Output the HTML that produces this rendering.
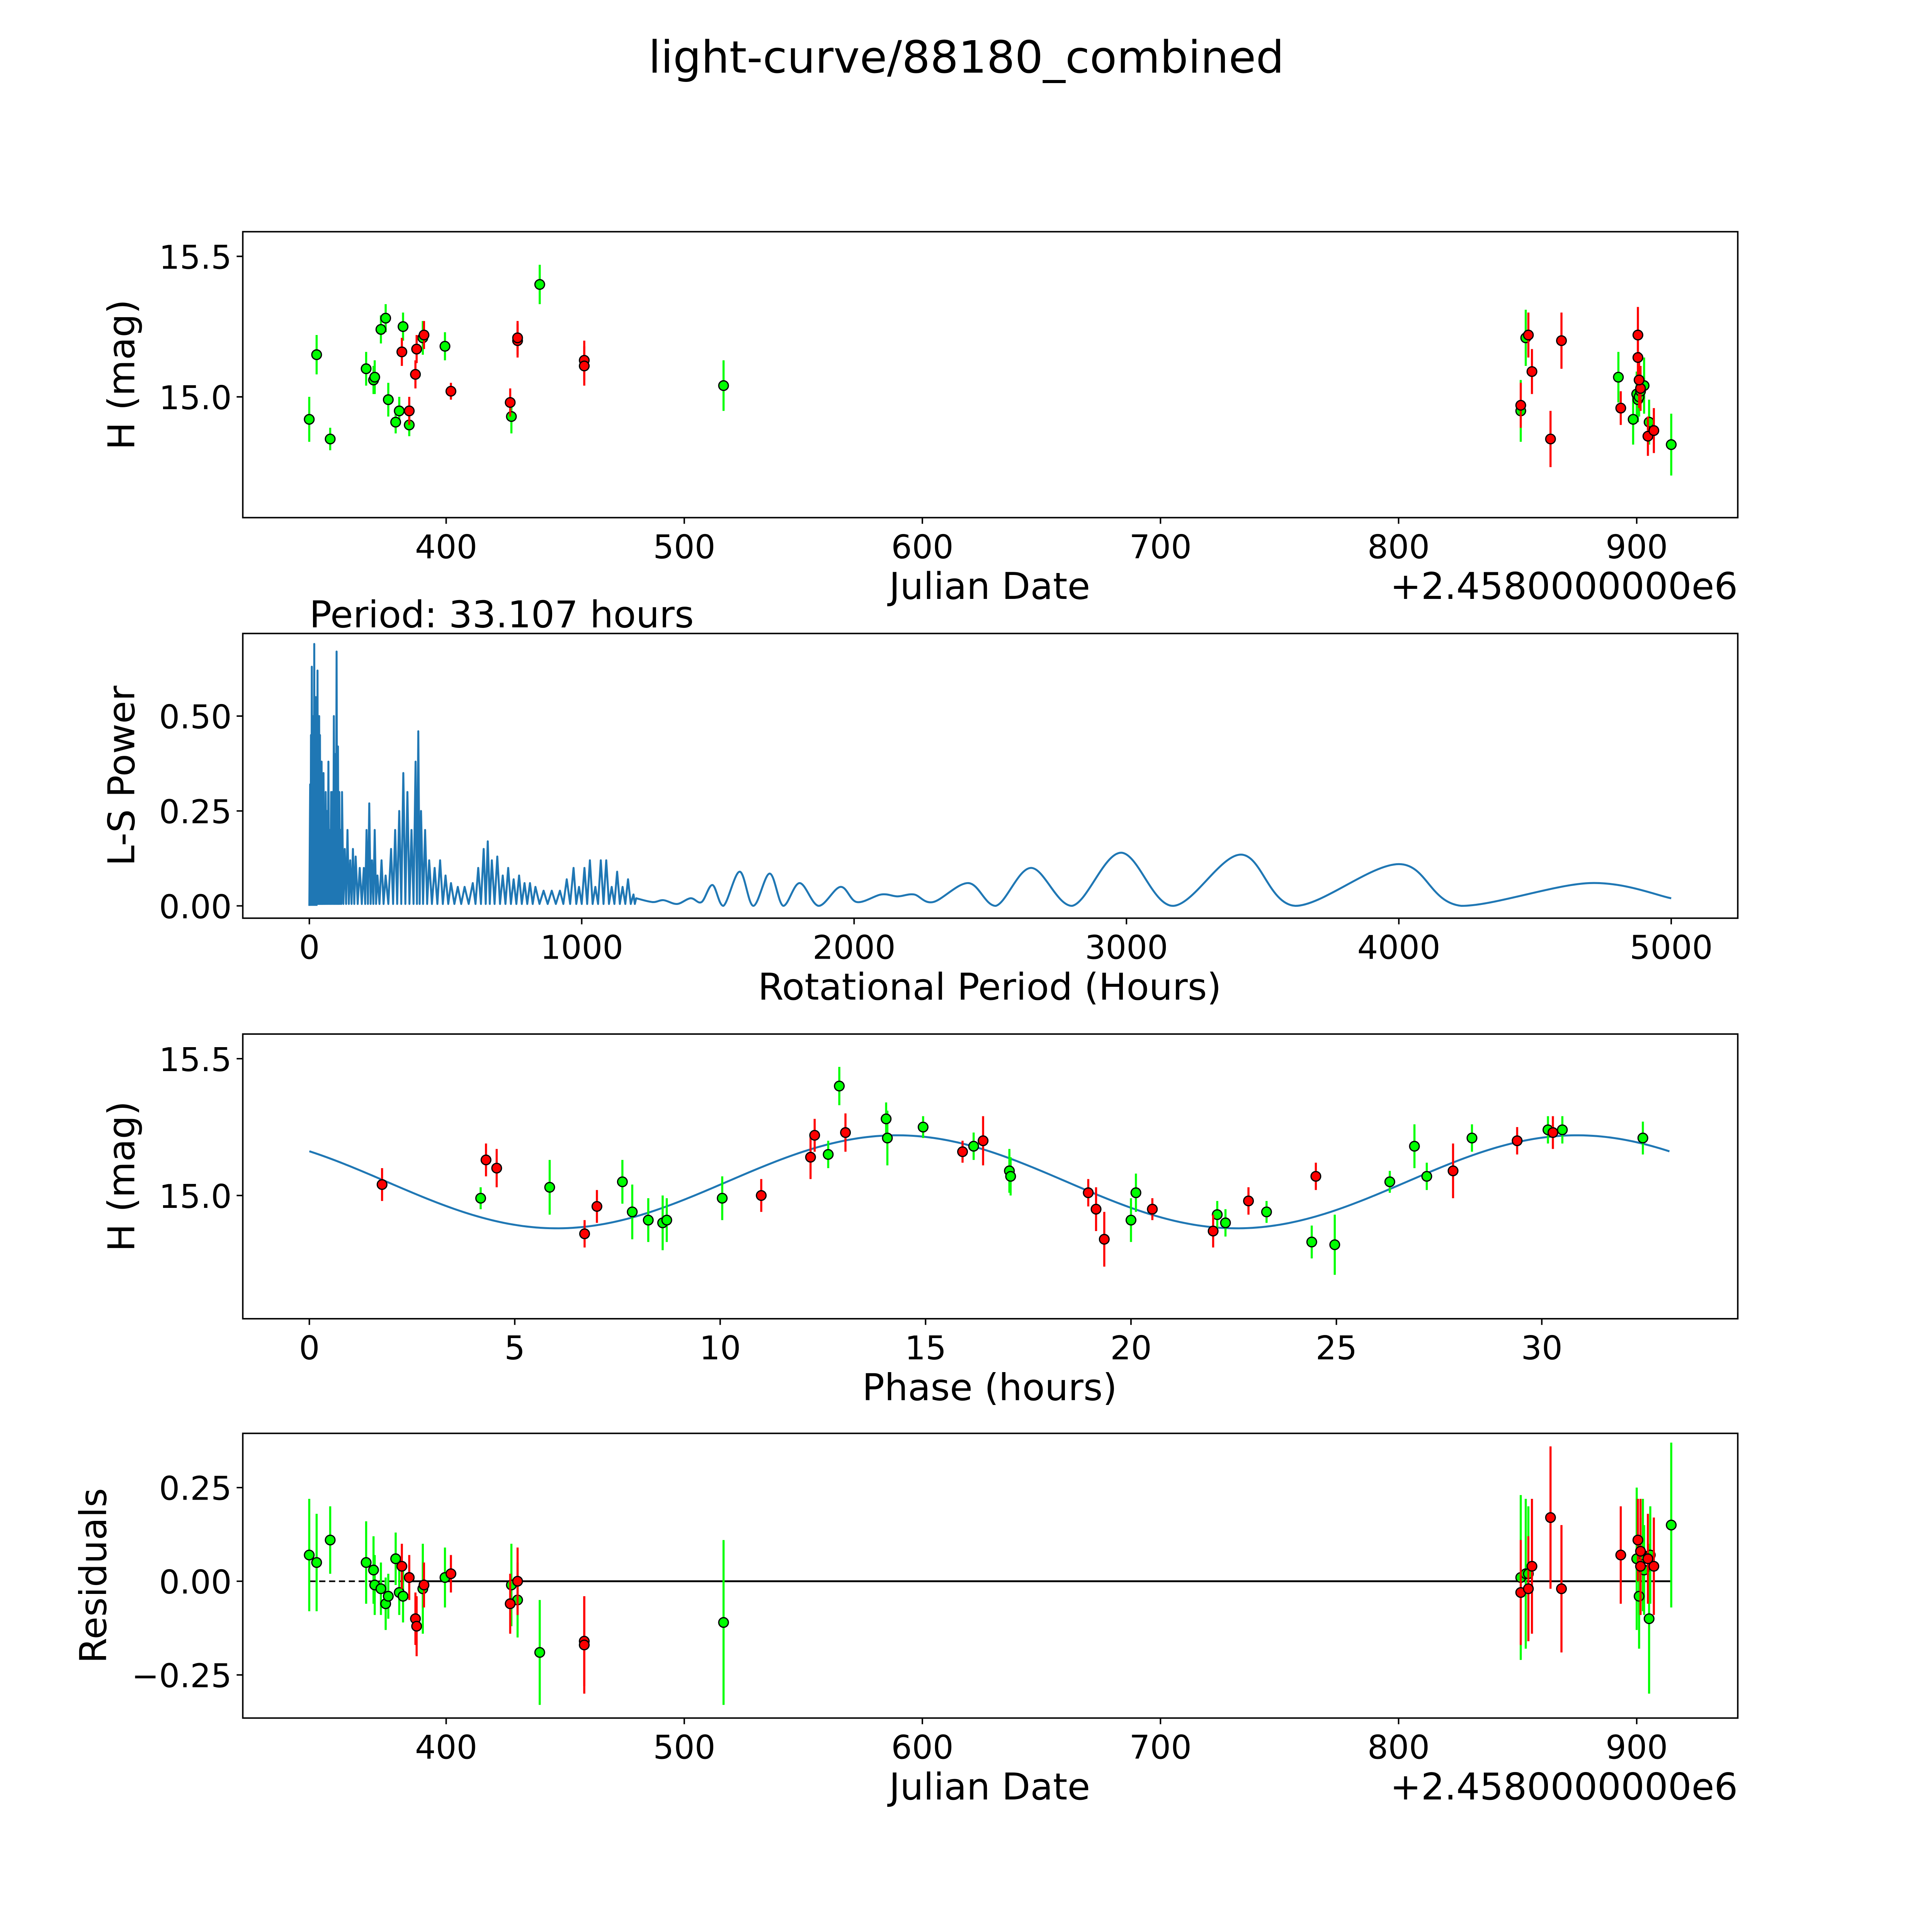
<!DOCTYPE html>
<html><head><meta charset="utf-8"><style>
html,body{margin:0;padding:0;background:#fff;overflow:hidden;width:5400px;height:5400px}
svg{display:block;font-family:"DejaVu Sans","Liberation Sans",sans-serif}
</style></head><body>
<svg id="fig" xmlns="http://www.w3.org/2000/svg" width="5400" height="5400" viewBox="0 0 1693 1693">
<rect width="1693" height="1693" fill="#fff"/>
<text x="784" y="59" font-size="36" text-anchor="middle">light-curve/88180_combined</text>
</svg>
<script>
// ---- data ----
const jdGreen=[342.5,345.6,351.3,366.4,369.5,370,372.6,374.6,375.7,378.8,380.3,381.9,384.5,390.2,399.5,427.4,439.3,516.5,851.3,853.4,892.3,898.5,900,900.5,901,901.6,903.1,905.2,914.5];
const magGreen=[14.92,15.15,14.85,15.1,15.06,15.07,15.24,15.28,14.99,14.91,14.95,15.25,14.9,15.21,15.18,14.93,15.4,15.04,14.95,15.21,15.07,14.92,15.01,14.99,15.0,15.02,15.04,14.91,14.83];
const errGreen=[0.08,0.07,0.04,0.06,0.05,0.06,0.05,0.05,0.06,0.04,0.05,0.05,0.04,0.06,0.05,0.06,0.07,0.09,0.11,0.1,0.09,0.09,0.08,0.08,0.07,0.07,0.1,0.08,0.11];
const jdRed=[381.4,384.5,387.1,387.6,390.7,402,426.9,430,430,458,458,851.3,854.5,856,863.8,868.4,893.3,900.5,900.5,901.6,904.7,907.2,901];
const magRed=[15.16,14.95,15.08,15.17,15.22,15.02,14.98,15.2,15.21,15.13,15.11,14.97,15.22,15.09,14.85,15.2,14.96,15.22,15.14,15.03,14.86,14.88,15.06];
const errRed=[0.05,0.05,0.05,0.05,0.05,0.03,0.05,0.06,0.06,0.07,0.07,0.08,0.08,0.08,0.1,0.1,0.06,0.1,0.08,0.08,0.07,0.08,0.1];

const phGreenT=[4.17,5.85,7.62,7.86,8.25,8.6,8.7,10.05,12.63,12.9,14.04,14.07,14.94,16.17,17.04,17.07,20.0,20.12,22.1,22.3,23.3,24.4,24.96,26.3,26.9,27.2,28.3,30.15,30.5,32.46];
const phGreenM=[14.99,15.03,15.05,14.94,14.91,14.9,14.91,14.99,15.15,15.4,15.28,15.21,15.25,15.18,15.09,15.07,14.91,15.01,14.93,14.9,14.94,14.83,14.82,15.05,15.18,15.07,15.21,15.24,15.24,15.21];
const phGreenE=[0.04,0.1,0.08,0.1,0.08,0.1,0.08,0.08,0.05,0.07,0.06,0.1,0.04,0.05,0.08,0.07,0.08,0.07,0.05,0.05,0.04,0.06,0.11,0.04,0.08,0.05,0.05,0.05,0.05,0.06];
const phRedT=[1.77,4.3,4.56,6.7,7.0,11.0,12.2,12.3,13.05,15.9,16.4,18.96,19.15,19.35,20.52,22.0,22.86,24.5,27.84,29.4,30.27];
const phRedM=[15.04,15.13,15.1,14.86,14.96,15.0,15.14,15.22,15.23,15.16,15.2,15.01,14.95,14.84,14.95,14.87,14.98,15.07,15.09,15.2,15.23];
const phRedE=[0.06,0.06,0.07,0.05,0.06,0.06,0.08,0.06,0.07,0.04,0.09,0.05,0.08,0.1,0.04,0.06,0.05,0.05,0.1,0.05,0.06];
const fitMean=[15.05], fitAmp=[0.17], fitPeakPhase=[14.3], fitPeriod=[16.55], phaseSpan=[33.107];

const resGreenJD=[342.5,345.6,351.3,366.4,369.5,370,372.6,374.6,375.7,378.8,380.3,381.9,390.2,399.5,427.4,430,439.3,516.5,851.3,853.4,854.5,900,901,902.6,903.1,905.7,905.2,914.5];
const resGreenV=[0.07,0.05,0.11,0.05,0.03,-0.01,-0.02,-0.06,-0.04,0.06,-0.03,-0.04,-0.02,0.01,-0.01,-0.05,-0.19,-0.11,0.01,0.02,0.02,0.06,-0.04,0.07,0.03,0.07,-0.1,0.15];
const resGreenE=[0.15,0.13,0.09,0.11,0.09,0.08,0.07,0.07,0.06,0.07,0.06,0.07,0.12,0.08,0.11,0.1,0.14,0.22,0.22,0.2,0.18,0.19,0.14,0.15,0.12,0.13,0.2,0.22];
const resRedJD=[381.4,384.5,387.1,387.6,390.7,402,426.9,430,458,458,851.3,854.5,856,863.8,868.4,893.3,900.5,901.6,901.6,904.7,907.2];
const resRedV=[0.04,0.01,-0.1,-0.12,-0.01,0.02,-0.06,0,-0.16,-0.17,-0.03,-0.02,0.04,0.17,-0.02,0.07,0.11,0.08,0.04,0.06,0.04];
const resRedE=[0.06,0.06,0.07,0.08,0.06,0.05,0.08,0.09,0.12,0.13,0.14,0.14,0.18,0.19,0.17,0.13,0.11,0.14,0.13,0.12,0.13];

const lsSpikeP=[3,6,9,12,15,18,21,24,27,30,33,36,39,42,45,48,52,56,60,65,70,75,80,85,90,95,100,105,110,115,120,130,140,150,160,170,185,200,210,220,230,240,250,265,280,300,315,330,345,360,375,390,400,410,425,440,460,480,500,520,545,570,600,620,640,655,670,690,710,730,750,770,790,810,830,860,890,920,945,970,990,1010,1030,1050,1070,1090,1110,1130,1150,1170,1190];
const lsSpikeV=[0.32,0.45,0.63,0.3,0.5,0.69,0.4,0.55,0.3,0.62,0.35,0.5,0.45,0.25,0.38,0.3,0.35,0.25,0.3,0.25,0.38,0.2,0.3,0.3,0.5,0.4,0.67,0.42,0.3,0.2,0.3,0.15,0.2,0.12,0.15,0.13,0.1,0.1,0.2,0.27,0.12,0.2,0.08,0.12,0.08,0.15,0.2,0.25,0.35,0.3,0.2,0.38,0.46,0.25,0.2,0.12,0.1,0.12,0.08,0.06,0.05,0.05,0.06,0.1,0.15,0.17,0.12,0.13,0.08,0.1,0.07,0.08,0.06,0.06,0.05,0.04,0.04,0.04,0.07,0.1,0.05,0.1,0.12,0.05,0.12,0.12,0.05,0.09,0.05,0.07,0.03];
const lsSmoothP=[1200,1260,1300,1350,1400,1440,1480,1520,1580,1630,1690,1740,1800,1870,1950,2010,2100,2160,2220,2290,2420,2520,2650,2800,2980,3170,3420,3620,4000,4230,4700,5000];
const lsSmoothV=[0.02,0.01,0.015,0.005,0.02,0.01,0.055,0.0,0.09,0.0,0.085,0.0,0.06,0.0,0.05,0.01,0.03,0.025,0.03,0.01,0.06,0.0,0.1,0.0,0.14,0.0,0.135,0.0,0.11,0.0,0.06,0.02];

const jdTicks=[400,500,600,700,800,900];
const magTicks=[15.0,15.5];
const lsXTicks=[0,1000,2000,3000,4000,5000];
const lsYTicks=[0.0,0.25,0.5];
const phTicks=[0,5,10,15,20,25,30];
const resTicks=[-0.25,0.0,0.25];

// ---- drawing ----
const svg=document.getElementById('fig');
const NS='http://www.w3.org/2000/svg';
function mk(tag,attrs,parent){const e=document.createElementNS(NS,tag);for(const k in attrs)e.setAttribute(k,attrs[k]);(parent||svg).appendChild(e);return e;}
const L=197,R=1410;
const xJD=d=>362+(d-400)*1.932;
const xLS=p=>251+p*0.221;
const xPH=h=>251+h*33.333;
const yM1=m=>322-(m-15)*228;
const yLS=v=>735-v*308;
const yM3=m=>970-(m-15)*222;
const yRes=v=>1283-v*304;

function axes(name,top,bot,xt,xs,xf,yt,ys,yf,ylabel,xlabel,offset){
  const g=mk('g',{});
  
  
  const fr=mk('rect',{x:L,y:top,width:R-L,height:bot-top,fill:'none',stroke:'#000','stroke-width':1.2},g);
  
  
  xt.forEach(v=>{const x=xs(v);mk('line',{x1:x,x2:x,y1:bot,y2:bot+5,stroke:'#000','stroke-width':1.2},g);
    const t=mk('text',{x:x,y:bot+33,'font-size':26.5,'text-anchor':'middle'},g);t.textContent=xf(v);
    });
  yt.forEach(v=>{const y=ys(v);mk('line',{x1:L-5,x2:L,y1:y,y2:y,stroke:'#000','stroke-width':1.2},g);
    const t=mk('text',{x:L-9,y:y+10,'font-size':26.5,'text-anchor':'end'},g);t.textContent=yf(v);
    });
  const yl=mk('text',{transform:`translate(${name==='residuals-panel'?86:109},${(top+bot)/2}) rotate(-90)`,'font-size':30,'text-anchor':'middle'},g);
  yl.textContent=ylabel;
  const xl=mk('text',{x:803,y:bot+66,'font-size':30,'text-anchor':'middle'},g);
  xl.textContent=xlabel;
  if(offset){const o=mk('text',{x:R,y:bot+66,'font-size':30,'text-anchor':'end'},g);o.textContent=offset;
    }
}
function pts(xs,ys,X,V,E,col,name){
  X.forEach((d,i)=>{const x=xs(d);
    const l=mk('line',{x1:x,x2:x,y1:ys(V[i]-E[i]),y2:ys(V[i]+E[i]),stroke:col==='g'?'#00ff00':'#ff0000','stroke-width':1.7});
    });
  X.forEach((d,i)=>{const c=mk('circle',{cx:xs(d),cy:ys(V[i]),r:3.9,fill:col==='g'?'#00ff00':'#ff0000',stroke:'#000','stroke-width':1});
    });
}
const f2=v=>v.toFixed(2).replace('-','\u2212'), f1=v=>v.toFixed(1), f0=v=>String(v);

// panel 1
axes('raw-lightcurve-panel',188,420,jdTicks,xJD,f0,magTicks,yM1,f1,'H (mag)','Julian Date','+2.4580000000e6');
pts(xJD,yM1,jdGreen,magGreen,errGreen,'g','raw-green');
pts(xJD,yM1,jdRed,magRed,errRed,'r','raw-red');

// panel 2
axes('periodogram-panel',514,745,lsXTicks,xLS,f0,lsYTicks,yLS,f2,'L-S Power','Rotational Period (Hours)');
const pt=mk('text',{x:251,y:509,'font-size':30});pt.textContent='Period: 33.107 hours';

let d=`M${xLS(0)},${yLS(0)}`;
lsSpikeP.forEach((p,i)=>{d+=` L${xLS(p)},${yLS(lsSpikeV[i])}`;
  const nx=i<lsSpikeP.length-1?(p+lsSpikeP[i+1])/2:p+5; d+=` L${xLS(nx)},${yLS(0.005)}`;});
const sp=lsSmoothP.map((p,i)=>[xLS(p),yLS(lsSmoothV[i])]);
d+=` L${sp[0][0]},${sp[0][1]}`;
for(let i=0;i<sp.length-1;i++){const p0=sp[Math.max(0,i-1)],p1=sp[i],p2=sp[i+1],p3=sp[Math.min(sp.length-1,i+2)];
  const c1=[p1[0]+(p2[0]-p0[0])/6,p1[1]+(p2[1]-p0[1])/6],c2=[p2[0]-(p3[0]-p1[0])/6,p2[1]-(p3[1]-p1[1])/6];
  d+=` C${c1[0]},${Math.min(c1[1],735)} ${c2[0]},${Math.min(c2[1],735)} ${p2[0]},${p2[1]}`;}
const lsl=mk('path',{d:d,fill:'none',stroke:'#1f77b4','stroke-width':1.6,'stroke-linejoin':'round'});

const lsf=mk('rect',{x:xLS(0),y:yLS(0.3),width:xLS(30)-xLS(0),height:yLS(0)-yLS(0.3),fill:'#1f77b4'});


// panel 3
axes('phased-lightcurve-panel',839,1070,phTicks,xPH,f0,magTicks,yM3,f1,'H (mag)','Phase (hours)');
let fd='';for(let i=0;i<=300;i++){const t=phaseSpan[0]*i/300;
  const m=fitMean[0]+fitAmp[0]*Math.cos(2*Math.PI*(t-fitPeakPhase[0])/fitPeriod[0]);
  fd+=(i?' L':'M')+xPH(t)+','+yM3(m);}
const fit=mk('path',{d:fd,fill:'none',stroke:'#1f77b4','stroke-width':1.6});

pts(xPH,yM3,phGreenT,phGreenM,phGreenE,'g','phased-green');
pts(xPH,yM3,phRedT,phRedM,phRedE,'r','phased-red');

// panel 4
axes('residuals-panel',1163,1394,jdTicks,xJD,f0,resTicks,yRes,f2,'Residuals','Julian Date','+2.4580000000e6');
const z1=mk('line',{x1:251,x2:330,y1:yRes(0),y2:yRes(0),stroke:'#000','stroke-width':1.3,'stroke-dasharray':'5,3'});

const z2=mk('line',{x1:330,x2:1356,y1:yRes(0),y2:yRes(0),stroke:'#000','stroke-width':1.5});

pts(xJD,yRes,resGreenJD,resGreenV,resGreenE,'g','residual-green');
pts(xJD,yRes,resRedJD,resRedV,resRedE,'r','residual-red');
</script>
</body></html>
